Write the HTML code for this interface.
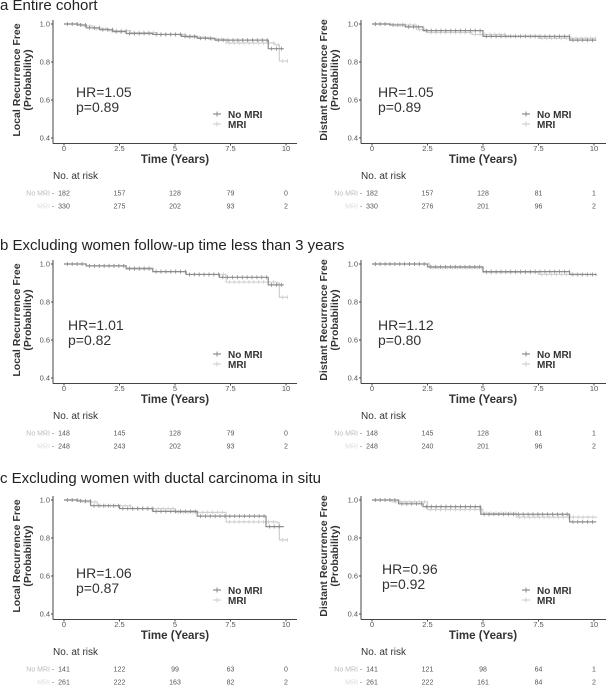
<!DOCTYPE html>
<html><head><meta charset="utf-8"><style>
html,body{margin:0;padding:0;background:#fff;width:606px;height:685px;overflow:hidden}
svg{display:block;font-family:"Liberation Sans",sans-serif}
</style></head><body>
<svg id="s" width="606" height="685" viewBox="0 0 606 685" xmlns="http://www.w3.org/2000/svg"></svg>
<script>
const S=document.getElementById('s');let h='';
const T=[['a Entire cohort',0],['b Excluding women follow-up time less than 3 years',240],['c Excluding women with ductal carcinoma in situ',473]];
T.forEach(t=>{h+=`<text x="0" y="${t[1]+10}" font-size="15" fill="#222">${t[0]}</text>`;});
function panel(left,oy,ylab,no,mri,hr,p,hy,risk){
 const ax=left?53:361,x0=ax+11,sc=22.2,xe=left?297:606;
 const Y=v=>oy+24+(1-v)*190, X=t=>x0+t*sc;
 let s='';
 s+=`<line x1="${ax}" y1="${oy+20}" x2="${ax}" y2="${oy+143.5}" stroke="#444" stroke-width="1"/>`;
 s+=`<line x1="${ax}" y1="${oy+143.5}" x2="${xe}" y2="${oy+143.5}" stroke="#444" stroke-width="1"/>`;
 [1,0.8,0.6,0.4].forEach(v=>{s+=`<line x1="${ax-2}" y1="${Y(v)}" x2="${ax}" y2="${Y(v)}" stroke="#444"/><text x="${ax-3}" y="${Y(v)+2.5}" font-size="7.5" fill="#555" text-anchor="end">${v.toFixed(1)}</text>`;});
 ['0','2.5','5','7.5','10'].forEach((l,i)=>{const x=X(i*2.5);s+=`<line x1="${x}" y1="${oy+143.5}" x2="${x}" y2="${oy+145.5}" stroke="#444"/><text x="${x}" y="${oy+151}" font-size="7.5" fill="#555" text-anchor="middle">${l}</text>`;});
 s+=`<text x="${(x0+X(10))/2}" y="${oy+163}" font-size="11.5" font-weight="bold" fill="#333" text-anchor="middle">Time (Years)</text>`;
 const lx=left?20:327,cy=oy+80;
 s+=`<text transform="translate(${lx},${cy}) rotate(-90)" font-size="10.5" font-weight="bold" fill="#333" text-anchor="middle"><tspan x="0" y="0">${ylab}</tspan><tspan x="0" y="11">(Probability)</tspan></text>`;
 function curve(d,col){let pts=`M${X(0)},${Y(1)}`;let prev=1;d.forEach(q=>{pts+=` H${X(q[0])} V${Y(q[1])}`;prev=q[1];});
  let str=`<path d="${pts}" fill="none" stroke="${col}" stroke-width="1.2"/>`;
  // censor ticks
  let last=[0,1];const all=[[0,1],...d];
  for(let i=0;i<all.length-1;i++){const a=all[i],b=all[i+1];for(let t=a[0]+0.15;t<b[0];t+=0.22){str+=`<line x1="${X(t)}" y1="${Y(a[1])-2}" x2="${X(t)}" y2="${Y(a[1])+2}" stroke="${col}" stroke-width="0.8"/>`;}}
  return str;}
 s+=curve(mri,'#d0d0d0');s+=curve(no,'#8c8c8c');
 const hx=left?(ax+ (hy[2]||23)):(ax+(hy[2]||17));
 s+=`<text x="${hx}" y="${oy+hy[0]+5}" font-size="14" fill="#333">HR=${hr}</text><text x="${hx}" y="${oy+hy[1]+5}" font-size="14" fill="#333">p=${p}</text>`;
 const gx=left?217:526,gy=oy+114;
 s+=`<line x1="${gx-4}" y1="${gy}" x2="${gx+4}" y2="${gy}" stroke="#8c8c8c" stroke-width="1.2"/><line x1="${gx}" y1="${gy-2.5}" x2="${gx}" y2="${gy+2.5}" stroke="#8c8c8c"/>`;
 s+=`<line x1="${gx-4}" y1="${gy+10}" x2="${gx+4}" y2="${gy+10}" stroke="#d0d0d0" stroke-width="1.2"/><line x1="${gx}" y1="${gy+7.5}" x2="${gx}" y2="${gy+12.5}" stroke="#d0d0d0"/>`;
 s+=`<text x="${gx+11}" y="${gy+4}" font-size="10" font-weight="bold" fill="#333">No MRI</text><text x="${gx+11}" y="${gy+14}" font-size="10" font-weight="bold" fill="#333">MRI</text>`;
 s+=`<text x="${ax}" y="${oy+179}" font-size="10" fill="#333">No. at risk</text>`;
 [['No MRI',risk[0],'#bbb',193],['MRI',risk[1],'#ddd',206]].forEach(r=>{
  s+=`<text x="${ax-3}" y="${oy+r[3]+2.5}" font-size="7" fill="${r[2]}" text-anchor="end">${r[0]}</text><text x="${ax}" y="${oy+r[3]+2.5}" font-size="7" fill="#777" text-anchor="middle">-</text>`;
  r[1].forEach((n,i)=>{s+=`<text x="${X(i*2.5)}" y="${oy+r[3]+2.5}" font-size="7" fill="#555" text-anchor="middle">${n}</text>`;});});
 return s;}
const LN=[[0.6,0.995],[1,0.98],[1.6,0.97],[2.2,0.96],[2.8,0.95],[4,0.945],[5.3,0.935],[6,0.925],[6.8,0.915],[9.2,0.87],[9.9,0.87]];
const LM=[[0.8,0.99],[1.3,0.975],[2,0.965],[3,0.955],[4.2,0.945],[5.5,0.93],[6.5,0.92],[7.3,0.9],[9.5,0.89],[9.7,0.805],[10.1,0.805]];
const DN=[[0.8,0.995],[1.5,0.985],[2.3,0.965],[5,0.935],[8.9,0.915],[10.1,0.915]];
const DM=[[0.9,0.995],[2,0.97],[2.5,0.955],[4.5,0.945],[6,0.935],[7.5,0.925],[10.1,0.925]];
h+=panel(true,0,'Local Recurrence Free',LN,LM,'1.05','0.89',[92,107],[[182,157,128,79,0],[330,275,202,93,2]]);
h+=panel(false,0,'Distant Recurrence Free',DN,DM,'1.05','0.89',[92,107],[[182,157,128,81,1],[330,276,201,96,2]]);
const bLN=[[1,0.99],[2.8,0.975],[4,0.96],[5.5,0.945],[7,0.93],[9.2,0.89],[9.9,0.89]];
const bLM=[[1,0.99],[2.8,0.98],[4,0.96],[5.5,0.945],[7.3,0.905],[9.6,0.9],[9.7,0.825],[10.1,0.825]];
h+=panel(true,240,'Local Recurrence Free',bLN,bLM,'1.01','0.82',[85,100,15],[[148,145,128,79,0],[248,243,202,93,2]]);
h+=panel(false,240,'Distant Recurrence Free',[[2.5,0.985],[5,0.96],[8.9,0.945],[10.1,0.94]],[[2.6,0.98],[5,0.955],[7.5,0.945],[10.1,0.945]],'1.12','0.80',[85,100],[[148,145,128,81,1],[248,240,201,96,2]]);
const cLN=[[0.6,0.995],[1.2,0.97],[2.5,0.955],[4,0.94],[6,0.915],[9.1,0.86],[9.9,0.86]];
const cLM=[[0.8,0.99],[1.5,0.97],[3,0.955],[5,0.935],[7.3,0.885],[9.6,0.88],[9.7,0.79],[10.1,0.79]];
h+=panel(true,476,'Local Recurrence Free',cLN,cLM,'1.06','0.87',[97,112],[[141,122,99,63,0],[261,222,163,82,2]]);
h+=panel(false,476,'Distant Recurrence Free',[[1.2,0.98],[2.3,0.965],[4.9,0.925],[8.9,0.885],[10.1,0.885]],[[0.9,0.99],[2.5,0.95],[5,0.93],[6.5,0.91],[10.1,0.905]],'0.96','0.92',[93,108,21],[[141,121,98,64,1],[261,222,161,84,2]]);
S.innerHTML=h;
</script>
</body></html>
